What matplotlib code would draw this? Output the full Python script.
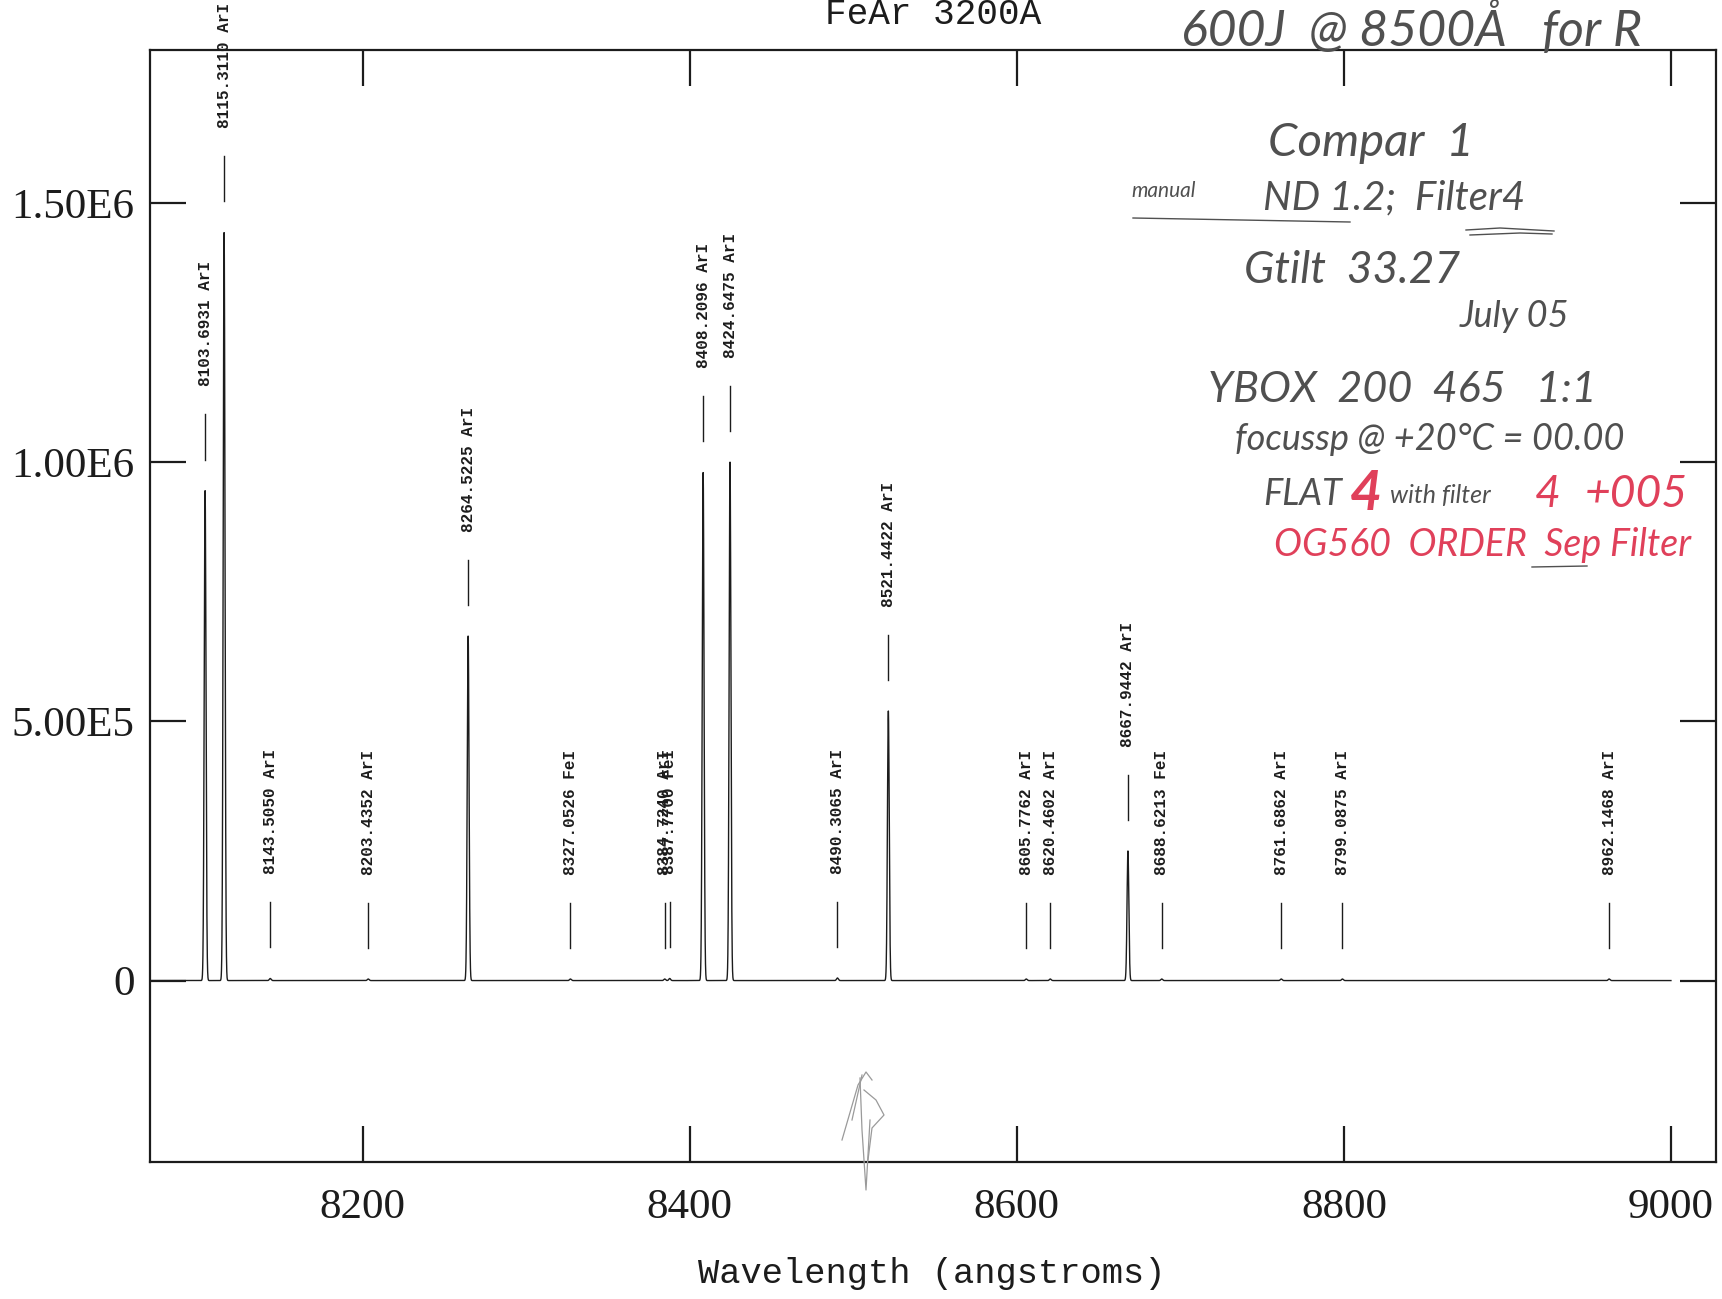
import numpy as np
import matplotlib
matplotlib.use("Agg")
import matplotlib.pyplot as plt
from matplotlib.lines import Line2D

# Identified arc lines: wavelength (A), species, peak counts
line_wavelengths = [8103.6931, 8115.3110, 8143.5050, 8203.4352, 8264.5225,
                    8327.0526, 8384.7240, 8387.7700, 8408.2096, 8424.6475,
                    8490.3065, 8521.4422, 8605.7762, 8620.4602, 8667.9442,
                    8688.6213, 8761.6862, 8799.0875, 8962.1468]
line_species = ["ArI", "ArI", "ArI", "ArI", "ArI",
                "FeI", "ArI", "FeI", "ArI", "ArI",
                "ArI", "ArI", "ArI", "ArI", "ArI",
                "FeI", "ArI", "ArI", "ArI"]
line_peaks = [9.45e5, 1.443e6, 4e3, 3e3, 6.65e5,
              3e3, 3e3, 4e3, 9.8e5, 1.0e6,
              5e3, 5.2e5, 3e3, 3e3, 2.5e5,
              3e3, 3e3, 3e3, 3e3]

x_ticks = [8200, 8400, 8600, 8800, 9000]
x_ticklabels = ["8200", "8400", "8600", "8800", "9000"]
y_ticks = [0, 5e5, 1e6, 1.5e6]
y_ticklabels = ["0", "5.00E5", "1.00E6", "1.50E6"]

W, H = 1722, 1299
fig = plt.figure(figsize=(W / 100, H / 100), dpi=100)
fig.patch.set_facecolor("white")
ax = fig.add_axes([150 / W, 1 - 1162 / H, (1716 - 150) / W, (1162 - 50) / H])
ax.set_xlim(8070, 9027.5)
ax.set_ylim(-3.5e5, 1.795e6)

ink = "#1c1c1c"

# Spectrum: narrow instrumental profile around each listed line on a flat baseline
wave = np.arange(8070.0, 9000.0, 0.05)
flux = np.zeros_like(wave)
sigma = 0.55
for c, h in zip(line_wavelengths, line_peaks):
    flux += h * np.exp(-0.5 * ((wave - c) / sigma) ** 2)
ax.plot(wave, flux, color=ink, lw=1.0)

# Line identification marks and labels
tick_gap, tick_len, text_gap = 6.0e4, 8.7e4, 5.4e4
for c, sp, h in zip(line_wavelengths, line_species, line_peaks):
    y0 = h + tick_gap
    ax.plot([c, c], [y0, y0 + tick_len], color=ink, lw=1.0)
    ax.text(c, y0 + tick_len + text_gap, f"{c:.4f} {sp}", rotation=90,
            ha="center", va="bottom", family="Liberation Mono", fontsize=11.5,
            weight="bold", color=ink, clip_on=False)

# Axes frame and ticks
for s in ax.spines.values():
    s.set_linewidth(1.6)
    s.set_color(ink)
ax.set_xticks(x_ticks)
ax.set_xticklabels(x_ticklabels)
ax.set_yticks(y_ticks)
ax.set_yticklabels(y_ticklabels)
ax.tick_params(direction="in", length=26, width=1.6, top=True, right=True,
               colors=ink, labelsize=31)
ax.tick_params(axis="x", pad=19)
ax.tick_params(axis="y", pad=11)
for lab in ax.get_xticklabels() + ax.get_yticklabels():
    lab.set_family("Liberation Serif")

ax.set_xlabel("Wavelength (angstroms)", family="Liberation Mono", fontsize=25.5,
              color=ink)
ax.xaxis.set_label_coords(0.499, -0.085)
ax.text(0.5, 1.0234, "FeAr 3200A", transform=ax.transAxes, ha="center",
        va="baseline", family="Liberation Mono", fontsize=26, color=ink)

# Handwritten observing notes
pen = "#505050"
red = "#e0405a"


def note(x, y, s, size, color=pen, weight="normal", **kw):
    fig.text(x / W, 1 - y / H, s, fontsize=size, color=color, family="Lato",
             style="italic", weight=weight, va="baseline", ha="left", **kw)


note(1181, 46, "600J  @ 8500Å   for R", 36)
note(1268, 156, "Compar  1", 34)
note(1131, 197, "manual", 15)
note(1263, 209, "ND 1.2;  Filter4", 29)
note(1244, 283, "Gtilt  33.27", 32)
note(1460, 327, "July 05", 26)
note(1208, 402, "YBOX  200  465   1:1", 31)
note(1235, 450, "focussp @ +20°C = 00.00", 26)
note(1263, 505, "FLAT", 26)
note(1350, 510, "4", 40, color=red, weight="bold")
note(1390, 503, "with filter", 18)
note(1535, 507, "4", 32, color=red)
note(1585, 507, "+005", 32, color=red)
note(1274, 556, "OG560  ORDER  Sep Filter", 27, color=red)


def stroke(xs, ys, color=pen, lw=1.0):
    fig.add_artist(Line2D([x / W for x in xs], [1 - y / H for y in ys],
                          color=color, lw=lw, transform=fig.transFigure))


stroke([1133, 1350], [218, 222])
stroke([1466, 1500, 1554], [230, 228, 231])
stroke([1470, 1520, 1552], [235, 233, 234])
stroke([1532, 1587], [567, 566])

# Pencil scribble below the baseline
sc = "#9a9a9a"
stroke([842, 858, 866, 872], [1140, 1085, 1072, 1080], color=sc, lw=0.9)
stroke([860, 862, 866, 870], [1078, 1130, 1190, 1120], color=sc, lw=0.9)
stroke([864, 876, 884, 872, 868], [1090, 1100, 1115, 1128, 1160], color=sc, lw=0.9)
stroke([852, 862], [1120, 1075], color=sc, lw=0.9)

fig.savefig("out.png", dpi=100, facecolor="white")
